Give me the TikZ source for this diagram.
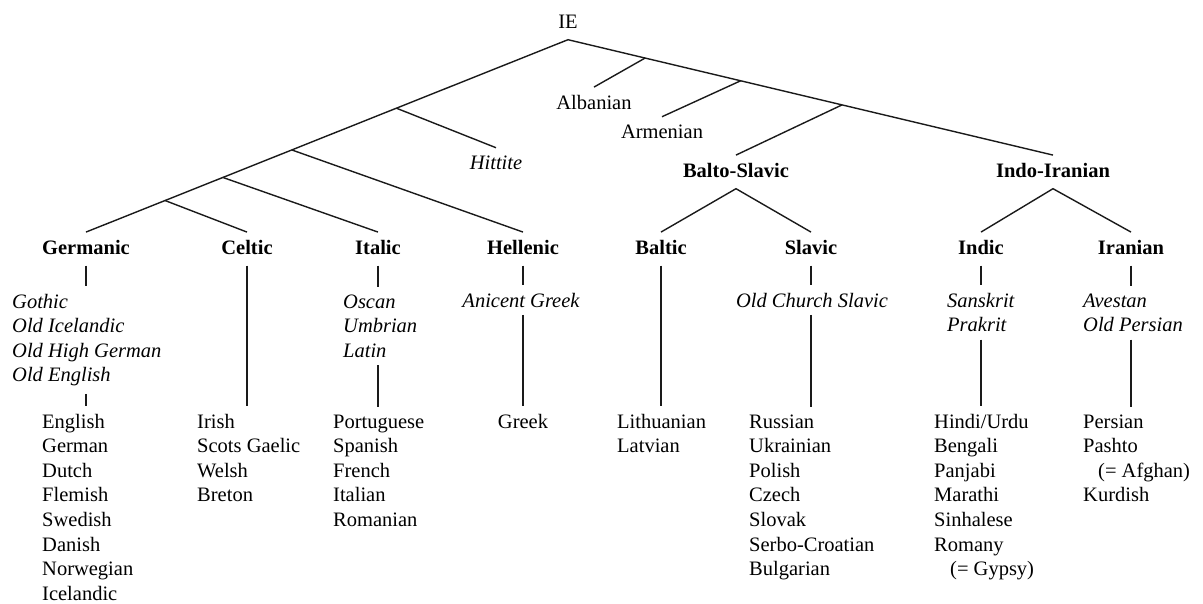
\documentclass[tikz,border=0pt]{standalone}
\usepackage{fontspec}
\setmainfont{Liberation Serif}
\usepackage{tikz}
\usetikzlibrary{calc,positioning}
\definecolor{treeink}{HTML}{1a1a1a}
\newcommand{\treefont}{\fontsize{20.5}{24.6}\selectfont}

\begin{document}
\begin{tikzpicture}[x=1pt,y=-1pt,font=\treefont,
  famlabel/.style={font=\treefont\bfseries,anchor=base,inner xsep=0pt,inner ysep=7.5pt,text depth=4pt},
  leaflabel/.style={famlabel,font=\treefont},
  oldlist/.style={font=\treefont\itshape,align=left,anchor=base west,inner xsep=0pt,inner ysep=7.5pt},
  modlist/.style={font=\treefont,align=left,anchor=base west,inner xsep=0pt,inner ysep=7.5pt},
  treeline/.style={treeink,line width=1.4pt}]
\useasboundingbox (0,0) rectangle (1203,603);
\node[leaflabel](ie) at (568,28){IE};
\node[leaflabel](albanian) at (594,109){Albanian};
\node[leaflabel](armenian) at (662,138){Armenian};
\node[leaflabel,font=\treefont\itshape](hittite) at (496,169){Hittite};
\node[famlabel](baltoslavic) at (736,177){Balto-Slavic};
\node[famlabel](indoiranian) at (1053,177){Indo-Iranian};
\node[famlabel](germanic) at (86,254){Germanic};
\node[famlabel](celtic) at (247,254){Celtic};
\node[famlabel](italic) at (378,254){Italic};
\node[famlabel](hellenic) at (523,254){Hellenic};
\node[famlabel](baltic) at (661,254){Baltic};
\node[famlabel](slavic) at (811,254){Slavic};
\node[famlabel](indic) at (981,254){Indic};
\node[famlabel](iranian) at (1131,254){Iranian};
\node[oldlist](gothic) at (12,381.8){Gothic\\Old Icelandic\\Old High German\\Old English};
\node[modlist](english) at (42,600.2){English\\German\\Dutch\\Flemish\\Swedish\\Danish\\Norwegian\\Icelandic};
\node[modlist](irish) at (197,501.8){Irish\\Scots Gaelic\\Welsh\\Breton};
\node[oldlist](oscan) at (343,357.2){Oscan\\Umbrian\\Latin};
\node[modlist](portuguese) at (333,526.4){Portuguese\\Spanish\\French\\Italian\\Romanian};
\node[oldlist,anchor=base](ancgreek) at (521,307){Anicent Greek};
\node[modlist,anchor=base](greek) at (523,428){Greek};
\node[modlist](lithuanian) at (617,452.6){Lithuanian\\Latvian};
\node[oldlist,anchor=base](ocslavic) at (812,307){Old Church Slavic};
\node[modlist](russian) at (749,575.6){Russian\\Ukrainian\\Polish\\Czech\\Slovak\\Serbo-Croatian\\Bulgarian};
\node[oldlist](sanskrit) at (947,331.6){Sanskrit\\Prakrit};
\node[modlist](hindi) at (934,575.6){Hindi/Urdu\\Bengali\\Panjabi\\Marathi\\Sinhalese\\Romany\\\hspace*{16pt}(= Gypsy)};
\node[oldlist](avestan) at (1083,331.6){Avestan\\Old Persian};
\node[modlist](persian) at (1083,501.8){Persian\\Pashto\\\hspace*{15pt}(= Afghan)\\Kurdish};
\coordinate (jhit) at ($(ie.south)!0.356!(germanic.north)$);
\coordinate (jhel) at ($(ie.south)!0.573!(germanic.north)$);
\coordinate (jita) at ($(ie.south)!0.716!(germanic.north)$);
\coordinate (jcel) at ($(ie.south)!0.836!(germanic.north)$);
\coordinate (jalb) at ($(ie.south)!0.159!(indoiranian.north)$);
\coordinate (jarm) at ($(ie.south)!0.356!(indoiranian.north)$);
\coordinate (jbs) at ($(ie.south)!0.565!(indoiranian.north)$);
\draw[treeline](germanic.north)--(ie.south)--(indoiranian.north);
\draw[treeline](jhit)--(hittite.north);
\draw[treeline](jhel)--(hellenic.north);
\draw[treeline](jita)--(italic.north);
\draw[treeline](jcel)--(celtic.north);
\draw[treeline](jalb)--(albanian.north);
\draw[treeline](jarm)--(armenian.north);
\draw[treeline](jbs)--(baltoslavic.north);
\draw[treeline](baltic.north)--(baltoslavic.south)--(slavic.north);
\draw[treeline](indic.north)--(indoiranian.south)--(iranian.north);
\draw[treeline](germanic.south)--(germanic.south|-gothic.north);
\draw[treeline](germanic.south|-gothic.south)--(germanic.south|-english.north);
\draw[treeline](celtic.south)--(celtic.south|-irish.north);
\draw[treeline](italic.south)--(italic.south|-oscan.north);
\draw[treeline](italic.south|-oscan.south)--(italic.south|-portuguese.north);
\draw[treeline](hellenic.south)--(hellenic.south|-ancgreek.north);
\draw[treeline](hellenic.south|-ancgreek.south)--(hellenic.south|-greek.north);
\draw[treeline](baltic.south)--(baltic.south|-lithuanian.north);
\draw[treeline](slavic.south)--(slavic.south|-ocslavic.north);
\draw[treeline](slavic.south|-ocslavic.south)--(slavic.south|-russian.north);
\draw[treeline](indic.south)--(indic.south|-sanskrit.north);
\draw[treeline](indic.south|-sanskrit.south)--(indic.south|-hindi.north);
\draw[treeline](iranian.south)--(iranian.south|-avestan.north);
\draw[treeline](iranian.south|-avestan.south)--(iranian.south|-persian.north);
\end{tikzpicture}
\end{document}
